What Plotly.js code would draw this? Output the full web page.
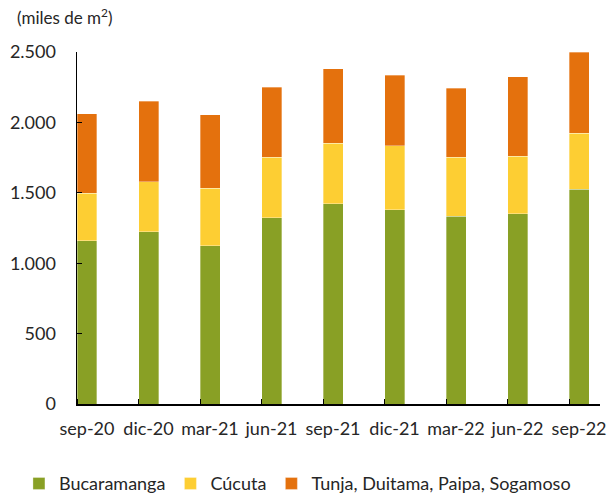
<!DOCTYPE html>
<html>
<head>
<meta charset="utf-8">
<script src="https://cdn.plot.ly/plotly-3.0.1.min.js"></script>
<style>html,body{margin:0;padding:0;background:#fff;}#chart{width:608px;height:494px;}</style>
</head>
<body>
<div id="chart"></div>
<script>
const categories = ["sep-20","dic-20","mar-21","jun-21","sep-21","dic-21","mar-22","jun-22","sep-22"];
const bucaramanga = [1159,1223,1124,1323,1422,1378,1332,1351,1524];
const cucuta = [337,354,407,429,429,455,420,408,399];
const tunja = [564,573,522,496,529,502,491,564,576];
const seriesNames = ["Bucaramanga","Cúcuta","Tunja, Duitama, Paipa, Sogamoso"];
const colors = ["#89A025","#FDCE33","#E4710D"];

const xIdx = categories.map((c,i)=>i);
const barW = 0.325;
const font = "Lato, 'Open Sans', sans-serif";
const lineStyle = {color:"rgba(255,255,255,0.55)", width:0.6};

const traces = [bucaramanga, cucuta, tunja].map((vals,k)=>({
  type:"bar", x:xIdx, y:vals, name:seriesNames[k], width:barW,
  marker:{color:colors[k], line:lineStyle}, hoverinfo:"skip"
}));

const layout = {
  width:608, height:494,
  margin:{l:77, r:8, t:52, b:90, autoexpand:false},
  barmode:"stack",
  separators:",.",
  paper_bgcolor:"#fff", plot_bgcolor:"#fff",
  font:{family:font, size:18, color:"#262626"},
  xaxis:{
    range:[-barW/2, 8.34],
    tickvals:xIdx, ticktext:categories,
    ticks:"", showgrid:false, zeroline:false,
    showline:true, linecolor:"#000", linewidth:1.5,
    ticklabelstandoff:8,
    tickfont:{size:18},
    minor:{tick0:-barW/2, dtick:1, ticks:"inside", ticklen:5, tickcolor:"#000", tickwidth:1, showgrid:false}
  },
  yaxis:{
    range:[0,2500], dtick:500, tickformat:",d",
    ticks:"inside", ticklen:5, tickcolor:"#000", tickwidth:1,
    showgrid:false, zeroline:false,
    showline:true, linecolor:"#000", linewidth:1.5,
    ticklabelstandoff:16,
    tickfont:{size:18}
  },
  showlegend:true,
  legend:{orientation:"h", x:-0.111, xanchor:"left", y:-0.174, yanchor:"top",
    font:{size:18}, traceorder:"normal", bgcolor:"rgba(0,0,0,0)"},
  annotations:[{
    xref:"paper", yref:"paper", x:-0.118, y:1.1, xanchor:"left", yanchor:"middle",
    text:"(miles de m<sup>2</sup>)", showarrow:false, font:{size:17, color:"#262626"}
  }]
};

Plotly.newPlot("chart", traces, layout, {displayModeBar:false, staticPlot:true});
</script>
</body>
</html>
